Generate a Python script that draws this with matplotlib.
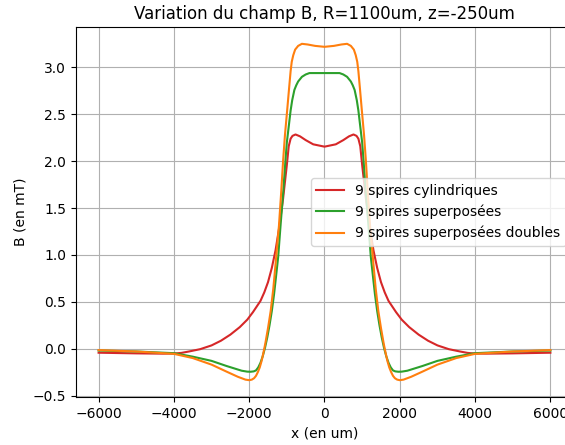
import matplotlib
matplotlib.use("Agg")
import matplotlib.pyplot as plt

x_red = [-6000, -5000, -4300, -4000, -3800, -3600, -3300, -3000, -2750, -2500, -2250, -2050, -1900,
         -1700, -1600, -1500, -1400, -1300, -1200, -1100, -1000, -950, -900, -850, -770, -650, -500,
         -300, 0,
         300, 500, 650, 770, 850, 900, 950, 1000, 1100, 1200, 1300, 1400, 1500, 1600, 1700,
         1900, 2050, 2250, 2500, 2750, 3000, 3300, 3600, 3800, 4000, 4300, 5000, 6000]
y_red = [-0.043, -0.05, -0.053, -0.052, -0.045, -0.03, -0.005, 0.035, 0.085, 0.15, 0.23, 0.31, 0.39,
         0.51, 0.60, 0.71, 0.86, 1.05, 1.30, 1.60, 1.96, 2.16, 2.24, 2.27, 2.285, 2.265, 2.225,
         2.18, 2.155,
         2.18, 2.225, 2.265, 2.285, 2.27, 2.24, 2.16, 1.96, 1.60, 1.30, 1.05, 0.86, 0.71, 0.60, 0.51,
         0.39, 0.31, 0.23, 0.15, 0.085, 0.035, -0.005, -0.03, -0.045, -0.052, -0.053, -0.05, -0.043]

x_green = [-6000, -5000, -4000, -3500, -3000, -2600, -2200, -2050, -1960, -1880, -1820, -1760, -1700,
           -1640, -1580, -1520, -1460, -1400, -1340, -1290, -1230, -1168, -1097, -1035, -1000, -947,
           -900, -858, -800, -750, -700, -600, -500, -400, 0,
           400, 500, 600, 700, 750, 800, 858, 900, 947, 1000, 1035, 1097, 1168, 1230, 1290, 1340,
           1400, 1460, 1520, 1580, 1640, 1700, 1760, 1820, 1880, 1960, 2050, 2200, 2600, 3000,
           3500, 4000, 5000, 6000]
y_green = [-0.02, -0.03, -0.048, -0.085, -0.13, -0.185, -0.235, -0.245, -0.246, -0.242, -0.232, -0.20, -0.15,
           -0.08, 0.01, 0.12, 0.25, 0.40, 0.58, 0.76, 0.98, 1.31, 1.67, 2.02, 2.20, 2.38,
           2.54, 2.65, 2.76, 2.81, 2.85, 2.90, 2.925, 2.94, 2.94,
           2.94, 2.925, 2.90, 2.85, 2.81, 2.76, 2.65, 2.54, 2.38, 2.20, 2.02, 1.67, 1.31, 0.98, 0.76, 0.58,
           0.40, 0.25, 0.12, 0.01, -0.08, -0.15, -0.20, -0.232, -0.242, -0.246, -0.245, -0.235, -0.185, -0.13,
           -0.085, -0.048, -0.03, -0.02]

x_orange = [-6000, -5000, -4000, -3500, -3000, -2600, -2300, -2100, -2000, -1930, -1870, -1820, -1770,
            -1720, -1670, -1620, -1570, -1500, -1430, -1360, -1300, -1210, -1150, -1100, -1050, -990,
            -940, -900, -870, -830, -780, -700, -600, -450, -250, 0,
            250, 450, 600, 700, 780, 830, 870, 900, 940, 990, 1050, 1100, 1150, 1210, 1300, 1360,
            1430, 1500, 1570, 1620, 1670, 1720, 1770, 1820, 1870, 1930, 2000, 2100, 2300, 2600,
            3000, 3500, 4000, 5000, 6000]
y_orange = [-0.015, -0.03, -0.055, -0.10, -0.17, -0.245, -0.30, -0.33, -0.336, -0.33, -0.315, -0.29, -0.25,
            -0.20, -0.13, -0.04, 0.06, 0.22, 0.40, 0.64, 0.90, 1.31, 1.67, 2.00, 2.28, 2.55,
            2.78, 2.96, 3.06, 3.13, 3.19, 3.23, 3.252, 3.245, 3.23, 3.22,
            3.23, 3.245, 3.252, 3.23, 3.19, 3.13, 3.06, 2.96, 2.78, 2.55, 2.28, 2.00, 1.67, 1.31, 0.90, 0.64,
            0.40, 0.22, 0.06, -0.04, -0.13, -0.20, -0.25, -0.29, -0.315, -0.33, -0.336, -0.33, -0.30, -0.245,
            -0.17, -0.10, -0.055, -0.03, -0.015]

labels = ["9 spires cylindriques", "9 spires superposées", "9 spires superposées doubles"]
colors = ["tab:red", "tab:green", "tab:orange"]

fig = plt.figure(figsize=(5.65, 4.45), dpi=100)
ax = fig.add_axes([76 / 565, 48 / 445, 497 / 565, 370 / 445])
ax.plot(x_red, y_red, color=colors[0], label=labels[0])
ax.plot(x_green, y_green, color=colors[1], label=labels[1])
ax.plot(x_orange, y_orange, color=colors[2], label=labels[2])
ax.grid(True)
ax.set_title("Variation du champ B, R=1100um, z=-250um")
ax.set_xlabel("x (en um)")
ax.set_ylabel("B (en mT)")
ax.legend(loc="center right")
fig.savefig("out.png", dpi=100)
